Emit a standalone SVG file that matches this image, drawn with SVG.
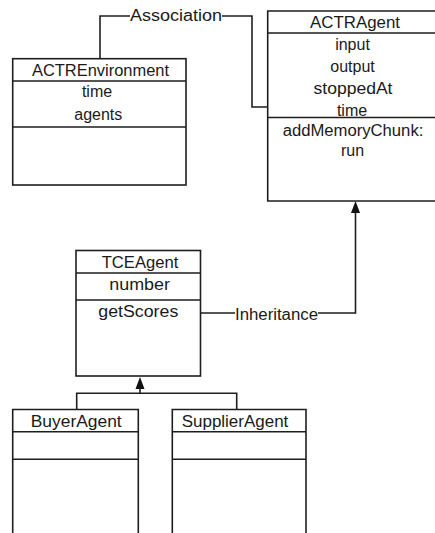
<svg xmlns="http://www.w3.org/2000/svg" width="435" height="533" viewBox="0 0 435 533">
  <style>
    .box { fill: #ffffff; stroke: #1e1e1e; stroke-width: 1.6; }
    .sep { stroke: #1e1e1e; stroke-width: 1.6; fill: none; }
    .wire { stroke: #1e1e1e; stroke-width: 1.6; fill: none; }
    .head { fill: #111111; stroke: none; }
    text { font-family: "Liberation Sans", Arial, sans-serif; font-size: 16px; fill: #1a1a1a; text-anchor: middle; }
    .lbl { text-anchor: start; }
  </style>
  <rect width="435" height="533" fill="#ffffff"/>

  <!-- connectors -->
  <g id="connectors">
    <!-- association between environment and agent -->
    <path class="wire" d="M100,58.5 V16 H130"/>
    <path class="wire" d="M222,16 H252 V107 H267.5"/>
    <text class="lbl" x="130" y="21" textLength="92" lengthAdjust="spacingAndGlyphs">Association</text>
    <!-- TCEAgent inherits from ACTRAgent -->
    <path class="wire" d="M200,313 H235"/>
    <path class="wire" d="M318,313 H355.5 V212"/>
    <polygon class="head" points="355.5,201 351,213 360,213"/>
    <text class="lbl" x="235" y="319.5" textLength="83" lengthAdjust="spacingAndGlyphs">Inheritance</text>
    <!-- buyer and supplier inherit from TCEAgent -->
    <polygon class="head" points="140,377 135.5,389 144.5,389"/>
    <path class="wire" d="M140,388 V393.3 M76.7,409.5 V393.3 H236.7 V409.5"/>
  </g>

  <g id="ACTREnvironment">
    <rect class="box" x="12.7" y="58.7" width="173.3" height="126.3"/>
    <path class="sep" d="M12.7,81 H186 M12.7,127 H186"/>
    <text x="100.5" y="76" textLength="137" lengthAdjust="spacingAndGlyphs">ACTREnvironment</text>
    <text x="97" y="97">time</text>
    <text x="98.3" y="120">agents</text>
  </g>

  <g id="ACTRAgent">
    <path class="box" d="M437,11 H267.7 V201 H437"/>
    <path class="sep" d="M267.7,33 H437 M267.7,117.5 H437"/>
    <text x="355" y="27.5" textLength="90" lengthAdjust="spacingAndGlyphs">ACTRAgent</text>
    <text x="352.5" y="50">input</text>
    <text x="352.5" y="72">output</text>
    <text x="353" y="94" textLength="79" lengthAdjust="spacingAndGlyphs">stoppedAt</text>
    <text x="352" y="115.5">time</text>
    <text x="353" y="136" textLength="140.7" lengthAdjust="spacingAndGlyphs">addMemoryChunk:</text>
    <text x="352.5" y="156">run</text>
  </g>

  <g id="TCEAgent">
    <rect class="box" x="76" y="250.5" width="124.5" height="125.5"/>
    <path class="sep" d="M76,273 H200.5 M76,300 H200.5"/>
    <text x="140" y="267.7" textLength="76.6" lengthAdjust="spacingAndGlyphs">TCEAgent</text>
    <text x="139.6" y="290" textLength="60.7" lengthAdjust="spacingAndGlyphs">number</text>
    <text x="138.3" y="317" textLength="80" lengthAdjust="spacingAndGlyphs">getScores</text>
  </g>

  <g id="BuyerAgent">
    <path class="box" d="M12.7,535 V409.5 H138.3 V535"/>
    <path class="sep" d="M12.7,431.7 H138.3 M12.7,459.3 H138.3"/>
    <text x="76.2" y="426.7" textLength="91" lengthAdjust="spacingAndGlyphs">BuyerAgent</text>
  </g>

  <g id="SupplierAgent">
    <path class="box" d="M172.3,535 V409.5 H306 V535"/>
    <path class="sep" d="M172.3,431.7 H306 M172.3,459.3 H306"/>
    <text x="235" y="426.7" textLength="106.6" lengthAdjust="spacingAndGlyphs">SupplierAgent</text>
  </g>
</svg>
